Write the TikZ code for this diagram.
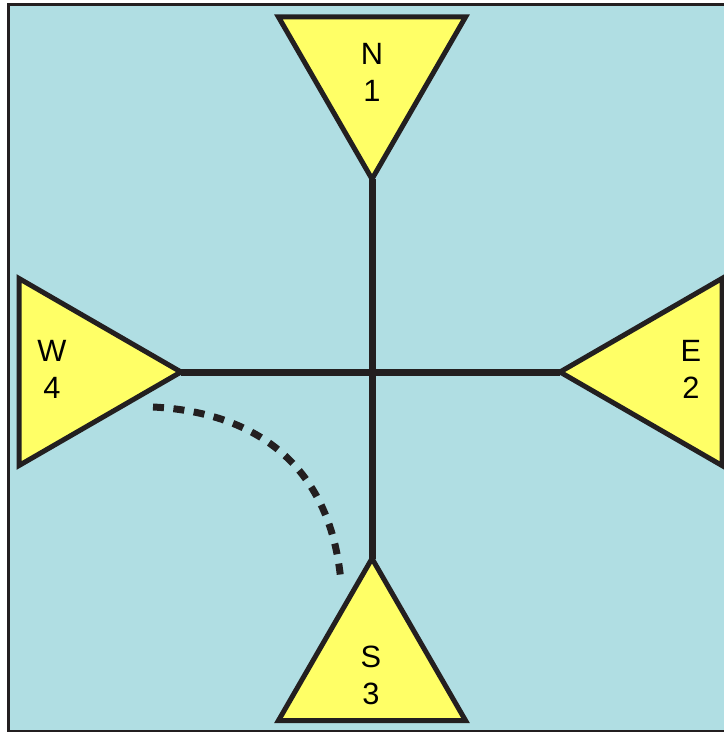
\documentclass[tikz,border=0pt]{standalone}
\usepackage{fontspec}
\setmainfont{Liberation Sans}
\usepackage{tikz}
\usetikzlibrary{shapes.geometric}
\definecolor{mybg}{RGB}{176,222,227}
\definecolor{myyellow}{RGB}{255,255,102}
\definecolor{mydark}{RGB}{35,31,32}

\begin{document}
\begin{tikzpicture}[x=0.5pt, y=-0.5pt,
  tri/.style={regular polygon, regular polygon sides=3, draw=mydark,
              fill=myyellow, line width=2.5pt, minimum size=108pt,
              inner sep=0pt, outer sep=0pt},
  lbl/.style={align=center, font=\fontsize{15.4}{18.5}\selectfont,
              inner sep=0pt},
  road/.style={mydark, line width=3.5pt}]
  \useasboundingbox (0,0) rectangle (723,732);
  \fill[white] (0,0) rectangle (723,732);
  \draw[fill=mybg, draw=mydark, line width=1.5pt] (8.7,4.7) rectangle (760,731);

  % the four approaches
  \node[tri, shape border rotate=180] (north) at (372,71) {};
  \node[tri, shape border rotate=90]  (east)  at (668,372) {};
  \node[tri]                          (south) at (372,666.5) {};
  \node[tri, shape border rotate=-90] (west)  at (73,372) {};

  \node[lbl] (northlbl) at (372,72)  {N\\1};
  \node[lbl] (eastlbl)  at (691,369) {E\\2};
  \node[lbl] (southlbl) at (371,675) {S\\3};
  \node[lbl] (westlbl)  at (52,369)  {W\\4};

  \draw[road] (north.corner 1) -- (south.corner 1);
  \draw[road] (west.corner 1) -- (east.corner 1);

  % turning path
  \coordinate (turnfrom) at (153,407);
  \coordinate (turnto) at (341,582);
  \draw[road, dash pattern=on 5.5pt off 4.75pt]
    (turnfrom) .. controls (250,412) and (330,460) .. (turnto);
\end{tikzpicture}
\end{document}
